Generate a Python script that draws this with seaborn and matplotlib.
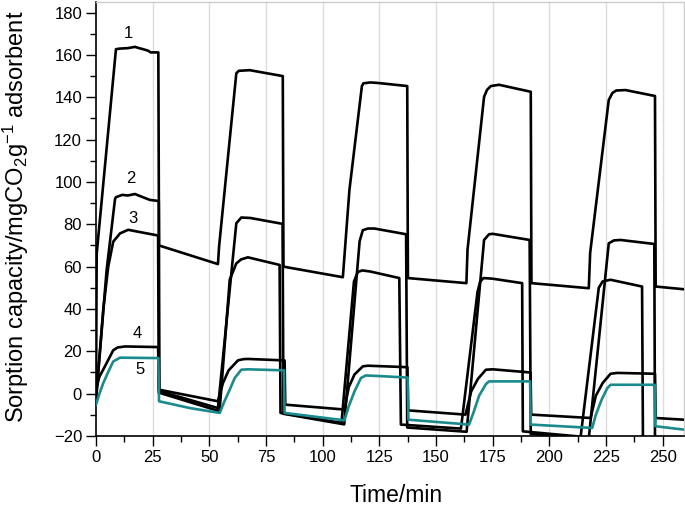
import matplotlib
matplotlib.use("Agg")
import matplotlib.pyplot as plt
from matplotlib.ticker import MultipleLocator
import seaborn as sns
import pandas as pd

# ---------------- data ----------------
t1 = [0, 0.3, 8.8, 10.6, 14, 17.2, 19, 20.8, 23, 24.1, 27.5, 27.8, 53.8,
      54.3, 57.5, 61.9, 63.0, 67.8, 82.4, 82.7, 108.9,
      111.8, 117.3, 118.0, 121, 124, 137.3, 137.6, 163.4,
      163.9, 171.2, 172.5, 174.2, 177.8, 191.8, 192.1, 217.4,
      218.0, 226.2, 227.8, 229.5, 233.6, 246.6, 246.9, 259.5]
v1 = [-3, 66, 162.7, 163, 163.2, 163.8, 163.2, 162.7, 162, 161.2, 161.2, 70, 61.2,
      69.5, 104, 151.3, 152.5, 152.8, 150, 60, 55,
      96.2, 145.3, 146.6, 147, 146.8, 145.3, 54.6, 52.2,
      68, 140.2, 143.5, 145.3, 145.9, 142.6, 52.2, 49.8,
      66.5, 138.7, 142, 143.2, 143.4, 140.6, 50.6, 49.3]

t2 = [0, 0.6, 4.7, 8.4, 8.8, 11.6, 14, 17.2, 19, 23.8, 27.7, 28.0, 53.8,
      61.9, 64.1, 68, 82.3, 82.7, 109.5,
      116.3, 117.7, 120, 122.8, 136.8, 137.3, 163.5,
      171.2, 173.4, 175, 191.3, 191.8, 217.4,
      226.2, 228.5, 231.4, 246.3, 246.6, 259.5]
v2 = [-3, 5, 58.5, 92, 92.8, 93.9, 93.6, 94.3, 93.5, 91.5, 91, 1.2, -6.8,
      80.5, 83.2, 83, 80.2, -9.5, -14.5,
      72, 77.2, 78, 78, 75.3, -16, -18,
      72.6, 75.3, 75.5, 72.6, -19, -21,
      71, 72.4, 72.6, 70.7, -21, -22]

t3 = [0, 0.3, 3.2, 5.4, 7.6, 10.6, 14.2, 20, 27.4, 27.7, 54.5,
      59, 61.9, 64, 67, 81, 81.4, 108.3,
      113.8, 115.5, 117.5, 121, 133.8, 134.5, 161,
      168.3, 169.5, 171, 175, 188, 188.3, 213.8,
      221.8, 223.5, 227, 240.9, 241.3, 259.5]
v3 = [-4, 1.1, 39.6, 60, 71.8, 75.7, 77.4, 76.2, 74.7, 0.5, -8.3,
      53.8, 61.5, 63.4, 64.4, 60.8, -9.1, -13.8,
      53, 57.5, 58.2, 57.7, 54.6, -14.6, -16.5,
      48, 53, 54.6, 54.3, 52.2, -17.8, -20.3,
      50, 53, 53.8, 50.6, -23, -24]

t4 = [0, 1.5, 3.5, 7.6, 9.5, 12.8, 27.4, 27.7, 53.8,
      56, 58.5, 62.6, 65, 67, 83.2, 83.5, 109.6,
      111.5, 114, 117.7, 120, 137.4, 137.7, 163,
      165.5, 168.5, 172, 175, 191.7, 192, 218.2,
      220.5, 223.5, 227, 230, 246.6, 246.9, 259.5]
v4 = [1.9, 8, 12, 20.5, 21.8, 22.3, 22, 1.9, -3.6,
      5, 11, 15.7, 16.3, 16.4, 15.7, -5.2, -7.5,
      3, 9, 12.9, 13.2, 12.5, -7.9, -9.9,
      1, 7, 11.3, 11.5, 10, -9.9, -11.5,
      -1, 5, 9.4, 9.8, 9.4, -11.5, -12.3]

t5 = [0, 1.5, 3.2, 5.5, 7.6, 10.6, 27.5, 27.8, 41.4, 54.6,
      56.5, 59, 61.2, 64.1, 67, 82.9, 83.2, 109.6,
      111.5, 114, 116.9, 119, 127, 137.5, 137.8, 164.6,
      166.5, 169, 172, 173.4, 191.5, 191.8, 218.9,
      220.5, 223, 225.5, 227, 246.5, 246.8, 259.5]
v5 = [-5.2, 0, 5, 10.5, 15.2, 17.0, 16.8, -3.6, -6.8, -9.1,
      -4, 1.9, 7.4, 11.3, 11.5, 11, -9.1, -12.6,
      -6, 1, 7.4, 8.6, 8.2, 7.6, -12.3, -14.6,
      -9, -1, 4.5, 5.8, 5.8, -14.6, -16.2,
      -10, -3, 2.5, 4.2, 4.2, -15.4, -17]

curve_labels = ["1", "2", "3", "4", "5"]
label_pos_t = [14.2, 15.3, 16.1, 18.3, 19.4]
label_pos_v = [169.9, 101.6, 82.7, 28.2, 11.3]

x_ticks = [0, 25, 50, 75, 100, 125, 150, 175, 200, 225, 250]
y_ticks = [-20, 0, 20, 40, 60, 80, 100, 120, 140, 160, 180]

# ---------------- style ----------------
sns.set_theme(style="white")
plt.rcParams['font.family'] = ['Liberation Sans', 'DejaVu Sans']
plt.rcParams['mathtext.fontset'] = 'custom'
plt.rcParams['mathtext.rm'] = 'Liberation Sans'
plt.rcParams['mathtext.it'] = 'Liberation Sans:italic'
plt.rcParams['mathtext.default'] = 'regular'

fig = plt.figure(figsize=(6.85, 5.11), dpi=100)
ax = fig.add_axes([96 / 685, 1 - 436 / 511, 588 / 685, 434 / 511])

series = [(t1, v1, "black"), (t2, v2, "black"), (t3, v3, "black"),
          (t4, v4, "black"), (t5, v5, "#1a8a8c")]
for i, (t, v, c) in enumerate(series):
    df = pd.DataFrame({"t": t, "v": v})
    sns.lineplot(data=df, x="t", y="v", ax=ax, color=c, lw=1.9,
                 sort=False, estimator=None, zorder=3 + i)

for lab, tx, vy in zip(curve_labels, label_pos_t, label_pos_v):
    ax.text(tx, vy, lab, ha="center", va="center", fontsize=12, color="black")

ax.set_xlim(0, 259.4)
ax.set_ylim(-20, 185)
ax.set_xticks(x_ticks)
ax.set_yticks(y_ticks)
ax.xaxis.set_minor_locator(MultipleLocator(12.5))
ax.yaxis.set_minor_locator(MultipleLocator(10))
ax.tick_params(axis="both", which="major", direction="out", length=7, width=1,
               color="black", labelsize=12, labelcolor="black", pad=3,
               bottom=True, left=True)
ax.tick_params(axis="both", which="minor", direction="out", length=4, width=1,
               color="black", bottom=True, left=True)

ax.grid(False)
for xv in x_ticks[1:]:
    ax.axvline(xv, color="#dcdcdc", lw=1, zorder=1)

for s in ["left", "bottom"]:
    ax.spines[s].set_color("black")
    ax.spines[s].set_linewidth(1.2)
for s in ["top", "right"]:
    ax.spines[s].set_color("#cccccc")
    ax.spines[s].set_linewidth(1)

ax.set_xlabel("Time/min", fontsize=16.5, color="black")
ax.set_ylabel("Sorption capacity/mgCO$_2$g$^{-1}$ adsorbent", fontsize=17, color="black")
ax.xaxis.set_label_coords(0.51, -0.11)
ax.yaxis.set_label_coords(-0.11, 0.505)

fig.savefig("out.png", dpi=100)
